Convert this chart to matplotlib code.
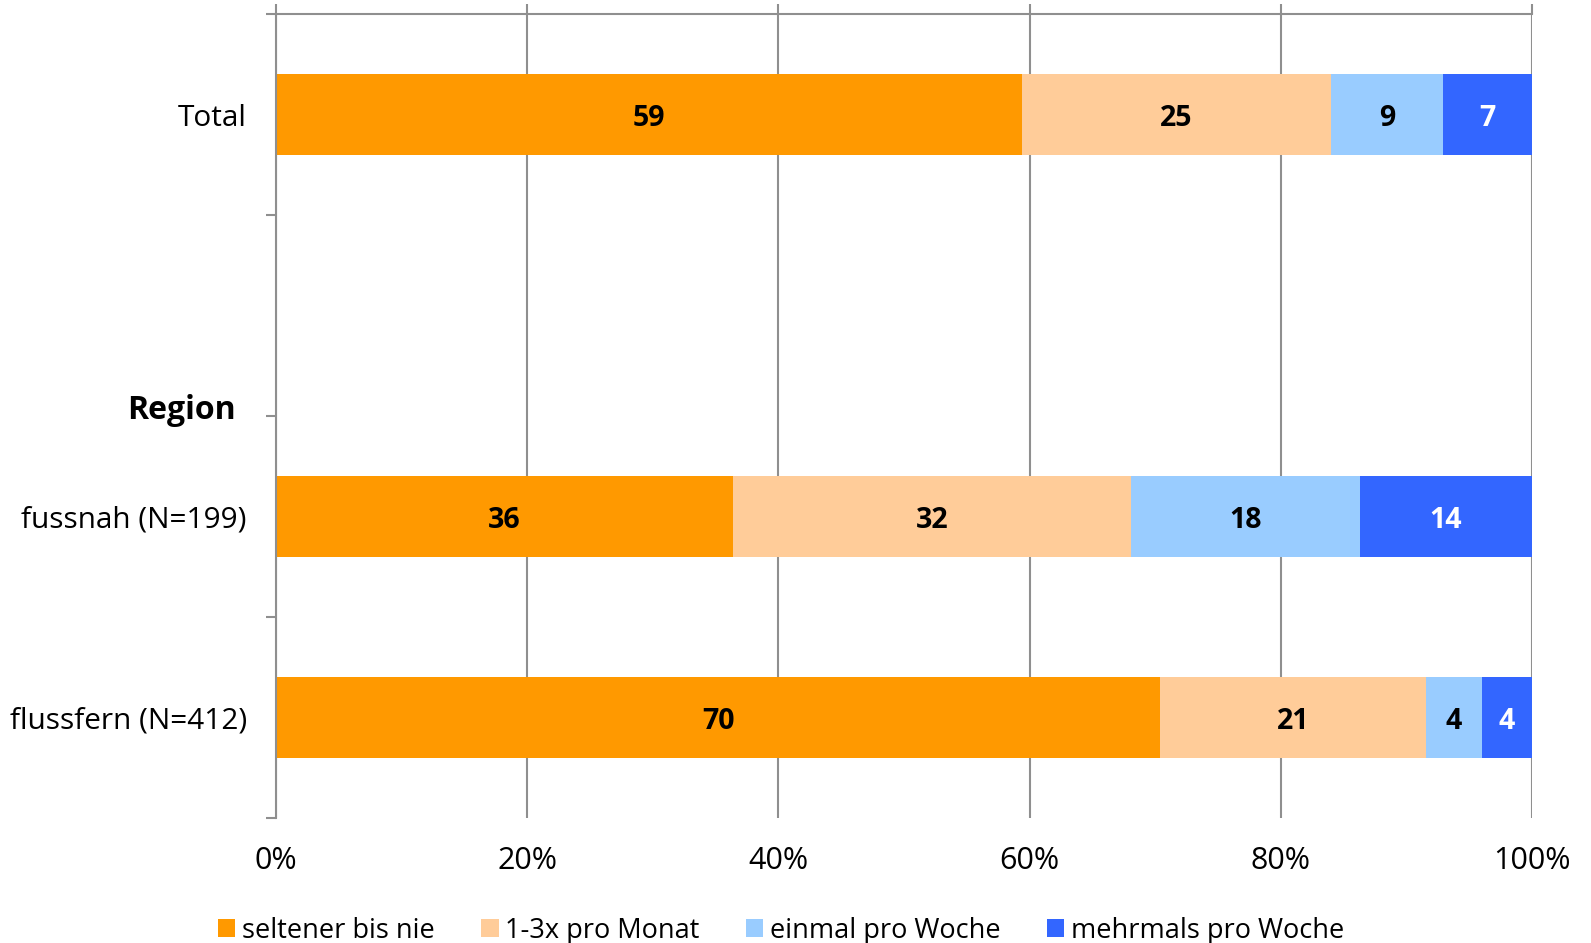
import matplotlib
matplotlib.use("Agg")
import matplotlib.pyplot as plt
from matplotlib.patches import Patch
from matplotlib.transforms import blended_transform_factory

plt.rcParams["font.family"] = ["Open Sans", "DejaVu Sans"]

# ── Daten ─────────────────────────────────────
rows = ["Total", "Region", "fussnah (N=199)", "flussfern (N=412)"]
series = ["seltener bis nie", "1-3x pro Monat", "einmal pro Woche", "mehrmals pro Woche"]
colors = ["#FF9900", "#FFCC99", "#99CCFF", "#3366FF"]
label_colors = ["black", "black", "black", "white"]

# Anteile in % (Zeile "Region" ist nur Zwischentitel → keine Balken)
seltener = [59.4, None, 36.4, 70.4]
monat    = [24.6, None, 31.7, 21.2]
einmal   = [8.9,  None, 18.2, 4.4]
mehrmals = [7.1,  None, 13.7, 4.0]
values = [seltener, monat, einmal, mehrmals]

xticks = [0, 20, 40, 60, 80, 100]
xticklabels = ["0%", "20%", "40%", "60%", "80%", "100%"]

GRID = "#8f8f8f"

fig = plt.figure(figsize=(15.91, 9.43), dpi=100)
ax = fig.add_axes([276/1591, 1 - 818/943, (1532 - 276)/1591, (818 - 14.2)/943])

bar_rows = [i for i, r in enumerate(rows) if seltener[i] is not None]
left = {i: 0.0 for i in bar_rows}
for s, vals in enumerate(values):
    for i in bar_rows:
        v = vals[i]
        ax.barh(i, v, left=left[i], height=0.4, color=colors[s], edgecolor="none", zorder=2)
        ax.text(left[i] + v / 2, i, f"{v:.0f}", ha="center", va="center_baseline",
                fontsize=20.5, fontweight="bold", color=label_colors[s], zorder=3)
        left[i] += v

ax.set_xlim(0, 100)
ax.set_ylim(3.5, -0.5)

# x-Achse: Beschriftung unten, Striche oben
ax.set_xticks(xticks, xticklabels)
ax.tick_params(axis="x", length=0, pad=20, labelsize=22, labelcolor="black")
ax.grid(axis="x", color=GRID, linewidth=1.5, zorder=1)
ax.set_axisbelow(True)

sec = ax.secondary_xaxis("top")
sec.set_xticks(xticks)
sec.tick_params(axis="x", length=7, width=1.5, color=GRID, direction="out", labeltop=False)
sec.spines["top"].set_color(GRID)
sec.spines["top"].set_linewidth(1.5)

# y-Achse: Kategorien, Striche an Grenzen
ax.set_yticks([0, 2, 3], [rows[0], rows[2], rows[3]])
ax.set_yticks([-0.5, 0.5, 1.5, 2.5, 3.5], minor=True)
ax.tick_params(axis="y", which="major", length=0, pad=21, labelsize=21.4)
ax.tick_params(axis="y", which="minor", length=7, width=1.5, color=GRID, direction="out")

for sp in ["top", "right", "bottom"]:
    ax.spines[sp].set_visible(False)
ax.spines["left"].set_color(GRID)
ax.spines["left"].set_linewidth(1.5)

trans = blended_transform_factory(ax.transAxes, ax.transData)
ax.text(-0.0323, 1.47, rows[1], transform=trans, ha="right", va="center",
        fontsize=23, fontweight="bold")

handles = [Patch(facecolor=c, edgecolor="none", label=l) for c, l in zip(colors, series)]
fig.legend(handles=handles, loc="center", bbox_to_anchor=(0.491, 0.013), ncol=4,
           frameon=False, fontsize=19.5, handlelength=0.65, handleheight=0.65,
           handletextpad=0.25, columnspacing=1.7)

fig.savefig("out.png", dpi=100)
